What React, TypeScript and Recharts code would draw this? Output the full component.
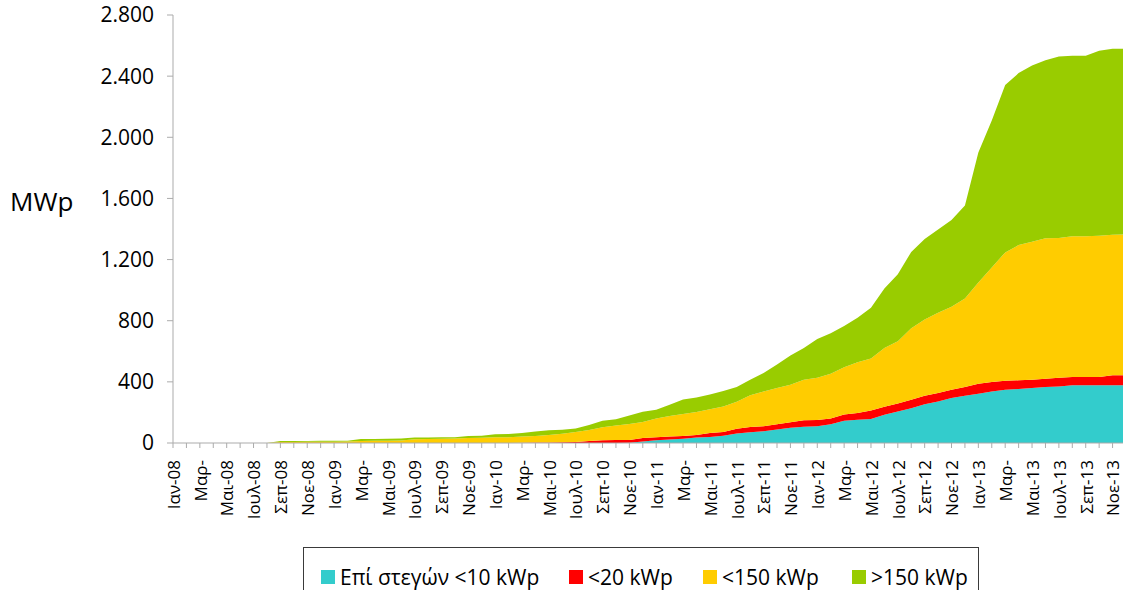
import React from 'react';
import { AreaChart, Area, XAxis, YAxis, Legend } from 'recharts';

const years = ['08', '09', '10', '11', '12', '13'];
const monthNames = ['Ιαν', 'Φεβ', 'Μαρ', 'Απρ', 'Μαι', 'Ιουν', 'Ιουλ', 'Αυγ', 'Σεπ', 'Οκτ', 'Νοε', 'Δεκ'];
const categories = years.flatMap((y) => monthNames.map((m) => `${m}-${y}`));

const tickLabels = [
  'Ιαν-08', 'Μαρ-', 'Μαι-08', 'Ιουλ-08', 'Σεπ-08', 'Νοε-08',
  'Ιαν-09', 'Μαρ-', 'Μαι-09', 'Ιουλ-09', 'Σεπ-09', 'Νοε-09',
  'Ιαν-10', 'Μαρ-', 'Μαι-10', 'Ιουλ-10', 'Σεπ-10', 'Νοε-10',
  'Ιαν-11', 'Μαρ-', 'Μαι-11', 'Ιουλ-11', 'Σεπ-11', 'Νοε-11',
  'Ιαν-12', 'Μαρ-', 'Μαι-12', 'Ιουλ-12', 'Σεπ-12', 'Νοε-12',
  'Ιαν-13', 'Μαρ-', 'Μαι-13', 'Ιουλ-13', 'Σεπ-13', 'Νοε-13',
];

const yTicks = [0, 400, 800, 1200, 1600, 2000, 2400, 2800];
const yTickLabels = ['0', '400', '800', '1.200', '1.600', '2.000', '2.400', '2.800'];

// MWp per category (stacked)
const rooftop10 = [
  0, 0, 0, 0, 0, 0, 0, 0, 0, 0, 0, 0,
  0, 0, 0, 0, 0, 0, 0, 0, 0, 0, 0, 0,
  0, 0, 0, 0, 0, 0, 0, 0, 0, 0, 2, 9,
  18, 23, 28, 36, 40, 48, 62, 70, 77, 88, 99, 107,
  109, 122, 145, 152, 157, 184, 206, 228, 254, 272, 294, 309,
  322, 337, 348, 353, 359, 366, 370, 377, 377, 377, 377, 377,
];
const under20 = [
  0, 0, 0, 0, 0, 0, 0, 0, 0, 0, 0, 0,
  0, 0, 0, 0, 0, 0, 0, 0, 0, 0, 0, 0,
  0, 0, 2, 3, 4, 5, 6, 13, 18, 20, 18, 24,
  20, 19, 18, 17, 25, 24, 31, 34, 33, 34, 36, 42,
  42, 38, 42, 45, 56, 53, 53, 55, 55, 55, 54, 57,
  66, 62, 60, 57, 55, 55, 57, 55, 55, 55, 66, 66,
];
const under150 = [
  0, 0, 0, 0, 0, 0, 0, 0, 7, 7, 8, 8,
  8, 9, 13, 14, 15, 17, 24, 26, 28, 30, 33, 35,
  37, 38, 40, 43, 49, 56, 66, 72, 85, 94, 105, 105,
  122, 135, 144, 149, 155, 167, 177, 208, 227, 238, 246, 265,
  276, 293, 308, 331, 339, 385, 406, 467, 499, 525, 544, 579,
  662, 749, 839, 885, 903, 918, 914, 920, 920, 924, 920, 922,
];
const over150 = [
  0, 0, 0, 0, 0, 0, 0, 0, 6, 6, 5, 6,
  6, 6, 13, 12, 12, 12, 12, 10, 9, 8, 13, 12,
  20, 21, 24, 29, 30, 25, 23, 33, 42, 42, 55, 66,
  58, 73, 95, 95, 98, 101, 96, 102, 121, 153, 191, 208,
  253, 265, 270, 291, 333, 388, 439, 500, 526, 545, 567, 608,
  850, 962, 1095, 1125, 1152, 1165, 1187, 1181, 1181, 1210, 1216, 1215,
];

const seriesNames = ['Επί στεγών <10 kWp', '<20 kWp', '<150 kWp', '>150 kWp'];
const seriesColors = ['#33CCCC', '#FF0000', '#FFCC00', '#99CC00'];
const seriesKeys = ['rooftop10', 'under20', 'under150', 'over150'];

const data = categories.map((month, i) => ({
  month,
  rooftop10: rooftop10[i],
  under20: under20[i],
  under150: under150[i],
  over150: over150[i],
}));

const FONT = "'Open Sans', sans-serif";
const AXIS_GREY = '#ABABAB';

const XTick = (props: any) => {
  const { x, y, index } = props;
  if (index % 2 !== 0) return <g />;
  return (
    <text
      x={x}
      y={y}
      transform={`rotate(-90, ${x}, ${y})`}
      textAnchor="end"
      dy="0.4em"
      fontSize={17}
      fill="#000"
      fontFamily={FONT}
    >
      {tickLabels[index / 2]}
    </text>
  );
};

const legendOffsets = [17, 265, 399, 548];

const renderLegend = () => (
  <div
    style={{
      position: 'relative',
      width: 676,
      height: 60,
      border: '1px solid #3a3a3a',
      boxSizing: 'border-box',
      fontFamily: FONT,
      fontSize: 21,
      color: '#000',
    }}
  >
    {seriesNames.map((name, i) => (
      <div
        key={name}
        style={{
          position: 'absolute',
          left: legendOffsets[i],
          top: 15,
          display: 'flex',
          alignItems: 'center',
          whiteSpace: 'nowrap',
        }}
      >
        <span
          style={{
            display: 'inline-block',
            width: 14,
            height: 14,
            background: seriesColors[i],
            marginRight: 5,
          }}
        />
        <span style={{ lineHeight: '28px' }}>{name}</span>
      </div>
    ))}
  </div>
);

export default function App() {
  return (
    <div
      style={{
        position: 'absolute',
        left: 0,
        top: 0,
        width: 1123,
        height: 590,
        overflow: 'hidden',
        background: '#fff',
        fontFamily: FONT,
      }}
    >
      <AreaChart
        width={1140}
        height={590}
        data={data}
        margin={{ top: 15, right: 14, bottom: 47, left: 0 }}
        style={{ fontFamily: FONT }}
      >
        <XAxis
          dataKey="month"
          interval={0}
          tick={<XTick />}
          tickSize={5}
          tickMargin={12}
          height={100}
          axisLine={{ stroke: AXIS_GREY }}
          tickLine={{ stroke: AXIS_GREY }}
        />
        <YAxis
          width={173}
          domain={[0, 2800]}
          ticks={yTicks}
          interval={0}
          tickFormatter={(v: number) => yTickLabels[yTicks.indexOf(v)]}
          tickSize={6}
          tickMargin={13}
          tick={{ fontSize: 21, fill: '#000', fontFamily: FONT }}
          axisLine={{ stroke: AXIS_GREY }}
          tickLine={{ stroke: AXIS_GREY }}
          label={{
            value: 'MWp',
            position: 'insideLeft',
            offset: 10,
            dy: -27,
            style: { fontSize: 26, fill: '#000', fontFamily: FONT },
          }}
        />
        {seriesKeys.map((k, i) => (
          <Area
            key={k}
            type="linear"
            dataKey={k}
            name={seriesNames[i]}
            stackId="a"
            stroke="none"
            fill={seriesColors[i]}
            fillOpacity={1}
            dot={false}
            activeDot={false}
            isAnimationActive={false}
          />
        ))}
        <Legend
          layout="horizontal"
          verticalAlign="middle"
          align="center"
          content={renderLegend}
          wrapperStyle={{ position: 'absolute', left: 303, top: 547, width: 676, height: 60 }}
        />
      </AreaChart>
    </div>
  );
}
